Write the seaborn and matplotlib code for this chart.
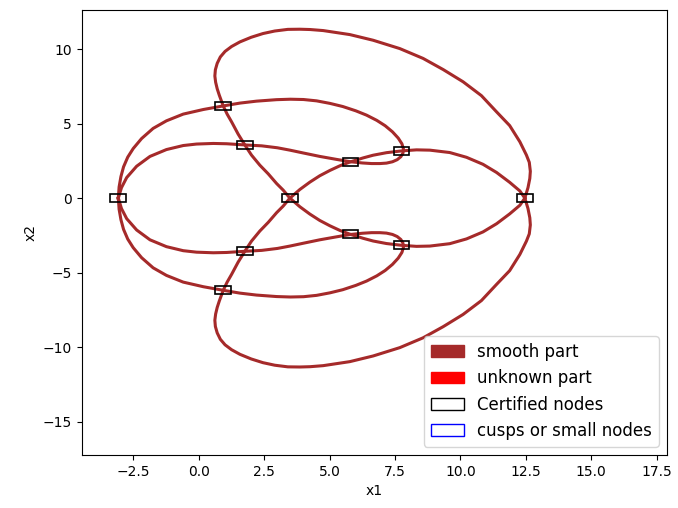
import numpy as np
import seaborn as sns
import matplotlib
matplotlib.use("Agg")
import matplotlib.pyplot as plt
import matplotlib.patches as mpatches

# outer loop, upper half: right node -> top -> node A -> node B -> centre node
outer_up_x = [12.46, 12.58, 12.65, 12.67, 12.63, 12.52, 12.27, 11.88, 11.38, 10.80, 10.10, 9.34, 8.57,
              7.68, 6.66, 5.77, 4.75, 4.25, 3.86, 3.40, 2.90, 2.45, 2.00, 1.57, 1.25, 1.00, 0.82,
              0.70, 0.63, 0.61, 0.64, 0.70, 0.78, 0.93, 1.08, 1.25, 1.50, 1.76, 2.01, 2.33, 2.65,
              2.97, 3.22, 3.48]
outer_up_y = [0.00, 0.70, 1.32, 1.80, 2.40, 2.89, 3.78, 4.87, 5.79, 6.88, 7.81, 8.63, 9.38,
              10.04, 10.60, 10.98, 11.25, 11.32, 11.34, 11.33, 11.22, 11.05, 10.80, 10.49, 10.18, 9.85, 9.48,
              9.05, 8.62, 8.20, 7.78, 7.34, 6.91, 6.19, 5.64, 5.12, 4.30, 3.56, 2.89, 2.21, 1.63,
              0.98, 0.54, 0.00]
# outer loop, lower half
outer_lo_x = [12.46, 12.58, 12.65, 12.67, 12.63, 12.52, 12.27, 11.88, 11.38, 10.80, 10.10, 9.34, 8.57,
              7.68, 6.66, 5.77, 4.75, 4.25, 3.86, 3.40, 2.90, 2.45, 2.00, 1.57, 1.25, 1.00, 0.82,
              0.70, 0.63, 0.61, 0.64, 0.70, 0.78, 0.93, 1.08, 1.25, 1.50, 1.76, 2.01, 2.33, 2.65,
              2.97, 3.22, 3.48]
outer_lo_y = [0.00, -0.70, -1.32, -1.80, -2.40, -2.89, -3.78, -4.87, -5.79, -6.88, -7.81, -8.63, -9.38,
              -10.04, -10.60, -10.98, -11.25, -11.32, -11.34, -11.33, -11.22, -11.05, -10.80, -10.49, -10.18, -9.85, -9.48,
              -9.05, -8.62, -8.20, -7.78, -7.34, -6.91, -6.19, -5.64, -5.12, -4.30, -3.56, -2.89, -2.21, -1.63,
              -0.98, -0.54, 0.00]

# centre node -> N1 -> N2 -> right node
diag_up_x = [3.48, 3.86, 4.24, 4.62, 5.01, 5.39, 5.80, 6.28, 6.66, 7.17, 7.75, 8.32, 8.83,
             9.59, 10.23, 10.86, 11.38, 11.88, 12.27, 12.46]
diag_up_y = [0.00, 0.58, 1.07, 1.50, 1.86, 2.17, 2.44, 2.70, 2.88, 3.05, 3.17, 3.24, 3.22,
             3.06, 2.74, 2.27, 1.72, 1.06, 0.48, 0.00]
diag_lo_x = [3.48, 3.86, 4.24, 4.62, 5.01, 5.39, 5.80, 6.28, 6.66, 7.17, 7.75, 8.32, 8.83,
             9.59, 10.23, 10.86, 11.38, 11.88, 12.27, 12.46]
diag_lo_y = [0.00, -0.58, -1.07, -1.50, -1.86, -2.17, -2.44, -2.70, -2.88, -3.05, -3.17, -3.24, -3.22,
             -3.06, -2.74, -2.27, -1.72, -1.06, -0.48, 0.00]

# left node -> middle arc -> small loop -> inner arc -> left node
mid_up_x = [-3.08, -3.05, -2.98, -2.88, -2.72, -2.51, -2.19, -1.75, -1.24, -0.60, 0.17, 0.93, 1.57,
            2.20, 2.97, 3.50, 4.00, 4.50, 5.01, 5.50, 6.00, 6.41, 6.80, 7.12, 7.40, 7.62, 7.76, 7.82,
            7.80, 7.72, 7.58, 7.40, 7.17, 6.92, 6.60, 6.25, 5.80, 5.26, 4.62, 3.99, 3.48, 3.00, 2.40,
            1.76, 1.06, 0.55, -0.09, -0.60, -1.24, -1.87, -2.38, -2.76, -2.96, -3.08]
mid_up_y = [0.00, 0.75, 1.45, 2.10, 2.75, 3.33, 4.00, 4.68, 5.19, 5.64, 5.95, 6.19, 6.38,
            6.51, 6.61, 6.64, 6.62, 6.53, 6.36, 6.15, 5.86, 5.57, 5.22, 4.86, 4.45, 4.03, 3.65, 3.30,
            3.02, 2.78, 2.58, 2.44, 2.35, 2.32, 2.32, 2.36, 2.44, 2.60, 2.80, 3.03, 3.22, 3.38, 3.51,
            3.57, 3.65, 3.67, 3.63, 3.53, 3.26, 2.80, 2.14, 1.38, 0.70, 0.00]
mid_lo_x = [-3.08, -3.05, -2.98, -2.88, -2.72, -2.51, -2.19, -1.75, -1.24, -0.60, 0.17, 0.93, 1.57,
            2.20, 2.97, 3.50, 4.00, 4.50, 5.01, 5.50, 6.00, 6.41, 6.80, 7.12, 7.40, 7.62, 7.76, 7.82,
            7.80, 7.72, 7.58, 7.40, 7.17, 6.92, 6.60, 6.25, 5.80, 5.26, 4.62, 3.99, 3.48, 3.00, 2.40,
            1.76, 1.06, 0.55, -0.09, -0.60, -1.24, -1.87, -2.38, -2.76, -2.96, -3.08]
mid_lo_y = [0.00, -0.75, -1.45, -2.10, -2.75, -3.33, -4.00, -4.68, -5.19, -5.64, -5.95, -6.19, -6.38,
            -6.51, -6.61, -6.64, -6.62, -6.53, -6.36, -6.15, -5.86, -5.57, -5.22, -4.86, -4.45, -4.03, -3.65, -3.30,
            -3.02, -2.78, -2.58, -2.44, -2.35, -2.32, -2.32, -2.36, -2.44, -2.60, -2.80, -3.03, -3.22, -3.38, -3.51,
            -3.57, -3.65, -3.67, -3.63, -3.53, -3.26, -2.80, -2.14, -1.38, -0.70, 0.00]

# certified nodes (box centres)
node_x = [-3.08, 3.48, 12.46, 0.93, 1.76, 5.80, 7.75, 0.93, 1.76, 5.80, 7.75]
node_y = [0.00, 0.00, 0.00, 6.19, 3.56, 2.42, 3.15, -6.19, -3.56, -2.42, -3.15]
box_w = 0.6
box_h = 0.55

fig, ax = plt.subplots(figsize=(6.78, 5.08), dpi=100)
plt.subplots_adjust(left=0.1205, right=0.984, top=0.980, bottom=0.1043)

strands = [(outer_up_x, outer_up_y), (outer_lo_x, outer_lo_y),
           (diag_up_x, diag_up_y), (diag_lo_x, diag_lo_y),
           (mid_up_x, mid_up_y), (mid_lo_x, mid_lo_y)]
for sx, sy in strands:
    sns.lineplot(x=sx, y=sy, sort=False, estimator=None, color='brown',
                 linewidth=2.2, solid_joinstyle='round', ax=ax, legend=False)

# boxes around the nodes
for nx, ny in zip(node_x, node_y):
    ax.add_patch(mpatches.Rectangle((nx - box_w / 2, ny - box_h / 2), box_w, box_h,
                                    fill=False, edgecolor='black', linewidth=1.2, zorder=3))

ax.set_xlim(-4.48, 17.9)
ax.set_ylim(-17.25, 12.62)
ax.set_xticks([-2.5, 0, 2.5, 5, 7.5, 10, 12.5, 15, 17.5])
ax.set_yticks([-15, -10, -5, 0, 5, 10])
ax.set_xlabel('x1')
ax.set_ylabel('x2')

handles = [mpatches.Patch(color='brown', label='smooth part'),
           mpatches.Patch(color='red', label='unknown part'),
           mpatches.Patch(facecolor='white', edgecolor='black', label='Certified nodes'),
           mpatches.Patch(facecolor='white', edgecolor='blue', label='cusps or small nodes')]
ax.legend(handles=handles, loc='lower right', fontsize=12)

plt.savefig('out.png', dpi=100)
